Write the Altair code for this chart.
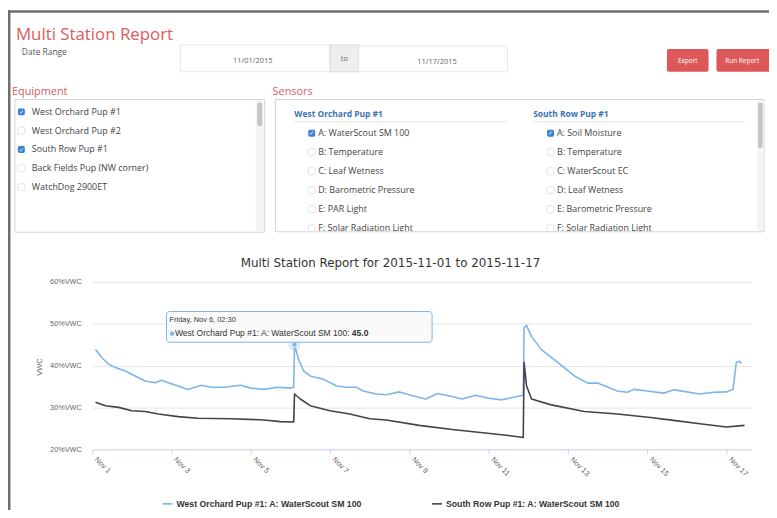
import altair as alt
import pandas as pd

# ---------------- data ----------------
series_names = ["West Orchard Pup #1: A: WaterScout SM 100",
                "South Row Pup #1: A: WaterScout SM 100"]
series_colors = ["#7cb5ec", "#434348"]

wo_time = ["2015-11-01T02:00", "2015-11-01T06:00", "2015-11-01T10:00", "2015-11-01T14:00",
           "2015-11-01T20:00", "2015-11-02T02:00", "2015-11-02T08:00", "2015-11-02T14:00",
           "2015-11-02T18:00", "2015-11-02T22:00", "2015-11-03T04:00", "2015-11-03T10:00",
           "2015-11-03T18:00", "2015-11-04T00:00", "2015-11-04T08:00", "2015-11-04T18:00",
           "2015-11-05T00:00", "2015-11-05T08:00", "2015-11-05T16:00", "2015-11-06T00:00",
           "2015-11-06T02:00", "2015-11-06T02:30", "2015-11-06T05:00", "2015-11-06T08:00",
           "2015-11-06T12:00", "2015-11-06T20:00", "2015-11-07T04:00", "2015-11-07T10:00",
           "2015-11-07T16:00", "2015-11-07T20:00", "2015-11-08T04:00", "2015-11-08T10:00",
           "2015-11-08T18:00", "2015-11-09T02:00", "2015-11-09T10:00", "2015-11-09T17:00",
           "2015-11-10T00:00", "2015-11-10T08:00", "2015-11-10T16:00", "2015-11-11T00:00",
           "2015-11-11T08:00", "2015-11-11T15:00", "2015-11-11T21:00", "2015-11-11T21:30",
           "2015-11-11T23:00", "2015-11-12T02:00", "2015-11-12T08:00", "2015-11-12T18:00",
           "2015-11-13T04:00", "2015-11-13T12:00", "2015-11-13T18:00", "2015-11-14T06:00",
           "2015-11-14T12:00", "2015-11-14T16:00", "2015-11-15T00:00", "2015-11-15T10:00",
           "2015-11-15T16:00", "2015-11-16T00:00", "2015-11-16T08:00", "2015-11-16T16:00",
           "2015-11-17T00:00", "2015-11-17T04:00", "2015-11-17T06:00", "2015-11-17T08:00",
           "2015-11-17T09:00"]
wo_vwc = [43.8, 41.8, 40.3, 39.5,
          38.7, 37.5, 36.3, 35.9,
          36.5, 35.9, 35.1, 34.3,
          35.3, 34.8, 34.8, 35.3,
          34.6, 34.3, 34.8, 34.6,
          34.8, 45.0, 41.4, 38.7,
          37.5, 36.7, 35.1, 34.8,
          34.8, 33.9, 33.2, 33.0,
          33.7, 32.8, 32.0, 33.3,
          32.8, 32.0, 32.9, 32.2,
          31.8, 32.4, 32.9, 49.0,
          49.6, 46.9, 43.8, 40.7,
          37.5, 35.8, 35.8, 33.9,
          33.6, 34.3, 33.9, 33.4,
          34.2, 33.7, 33.2, 33.6,
          33.7, 34.3, 40.7, 41.0,
          40.5]

sr_time = ["2015-11-01T02:00", "2015-11-01T08:00", "2015-11-01T16:00", "2015-11-02T00:00",
           "2015-11-02T08:00", "2015-11-02T16:00", "2015-11-03T04:00", "2015-11-03T16:00",
           "2015-11-04T12:00", "2015-11-05T08:00", "2015-11-05T18:00", "2015-11-06T02:00",
           "2015-11-06T02:30", "2015-11-06T06:00", "2015-11-06T12:00", "2015-11-07T00:00",
           "2015-11-07T12:00", "2015-11-08T00:00", "2015-11-08T10:00", "2015-11-09T06:00",
           "2015-11-10T02:00", "2015-11-10T22:00", "2015-11-11T12:00", "2015-11-11T21:00",
           "2015-11-11T21:30", "2015-11-11T23:00", "2015-11-12T02:00", "2015-11-12T14:00",
           "2015-11-13T10:00", "2015-11-14T06:00", "2015-11-15T02:00", "2015-11-15T16:00",
           "2015-11-16T08:00", "2015-11-17T00:00", "2015-11-17T11:00"]
sr_vwc = [31.2, 30.4, 30.0, 29.2,
          29.0, 28.4, 27.8, 27.4,
          27.3, 27.0, 26.6, 26.5,
          33.2, 32.0, 30.4, 29.2,
          28.4, 27.3, 27.0, 25.7,
          24.7, 23.9, 23.3, 22.8,
          40.7, 35.1, 32.0, 30.6,
          29.0, 28.4, 27.6, 26.9,
          26.1, 25.3, 25.7]

y_ticks = [20, 30, 40, 50, 60]
x_tick_days = [1, 3, 5, 7, 9, 11, 13, 15, 17]

page_title = "Multi Station Report"
chart_title = "Multi Station Report for 2015-11-01 to 2015-11-17"
date_label = "Date Range"
date_from = "11/01/2015"
date_sep = "to"
date_to = "11/17/2015"
button_labels = ["Export", "Run Report"]
equipment_heading = "Equipment"
sensors_heading = "Sensors"
equipment = ["West Orchard Pup #1", "West Orchard Pup #2", "South Row Pup #1",
             "Back Fields Pup (NW corner)", "WatchDog 2900ET"]
equipment_checked = [True, False, True, False, False]
sensor_groups = ["West Orchard Pup #1", "South Row Pup #1"]
sensors_group1 = ["A: WaterScout SM 100", "B: Temperature", "C: Leaf Wetness",
                  "D: Barometric Pressure", "E: PAR Light", "F: Solar Radiation Light"]
sensors_group2 = ["A: Soil Moisture", "B: Temperature", "C: WaterScout EC",
                  "D: Leaf Wetness", "E: Barometric Pressure", "F: Solar Radiation Light"]
sensors_checked = [True, False, False, False, False, False]
tooltip_time = "2015-11-06T02:30"
tooltip_header = "Friday, Nov 6, 02:30"

# ---------------- layout ----------------
OX, OY = 93, 282          # plot origin on the page
PW, PH = 665, 169         # plot size
SVG_W, SVG_H = 768, 502
RED = "#dc5b5b"
UI_FONT = "Open Sans"
HC_FONT = "Liberation Sans"

ONE = alt.InlineData(values=[{"k": 0}])


def px(x):
    return x - OX


def py(y):
    return y - OY


def label(s, x, y, size, color="#555", weight="normal", align="left",
          font=UI_FONT, baseline="middle", angle=None):
    kw = dict(text=s, fontSize=size, color=color, fontWeight=weight, align=align,
              font=font, baseline=baseline)
    if angle is not None:
        kw["angle"] = angle
    return alt.Chart(ONE).mark_text(**kw).encode(x=alt.value(px(x)), y=alt.value(py(y)))


def rect(x1, y1, x2, y2, fill="#ffffff", stroke=None, sw=1.0, radius=0, fill_opacity=1.0):
    kw = dict(fill=fill, fillOpacity=fill_opacity, cornerRadius=radius)
    if stroke:
        kw.update(stroke=stroke, strokeWidth=sw)
    else:
        kw.update(strokeWidth=0)
    return alt.Chart(ONE).mark_rect(**kw).encode(
        x=alt.value(px(x1)), x2=alt.value(px(x2)), y=alt.value(py(y1)), y2=alt.value(py(y2)))


def checkbox(x, y, checked):
    if checked:
        return [rect(x, y - 3.5, x + 7, y + 3.5, fill="#3b82d6", radius=1.5),
                label("\u2713", x + 3.5, y + 0.3, 6, color="white", align="center",
                      font="DejaVu Sans", weight="bold")]
    return [rect(x, y - 3.5, x + 7, y + 3.5, fill="#ffffff", stroke="#dcdcdc", sw=0.8, radius=1.5)]


ui = []
# frame
ui.append(rect(8, 8, 777, 10.5, fill="#6e6e6e"))
ui.append(rect(8, 8, 10.5, 520, fill="#6e6e6e"))
# header
ui.append(label(page_title, 16, 38, 17, color=RED, baseline="alphabetic"))
ui.append(label(date_label, 22, 50, 8.5, color="#555"))
ui.append(rect(182, 43, 333, 70, fill="#ffffff", stroke="#e6e6e6"))
ui.append(rect(333, 43, 362, 70, fill="#eeeeee", stroke="#dadada"))
ui.append(rect(362, 44, 512, 70, fill="#ffffff", stroke="#e6e6e6"))
ui.append(label(date_from, 255, 59, 7.5, color="#666", align="center"))
ui.append(label(date_sep, 347.5, 57, 7.5, color="#666", align="center"))
ui.append(label(date_to, 441, 60, 7.5, color="#666", align="center"))
ui.append(rect(673, 47, 715, 70, fill="#dd5858", radius=2))
ui.append(rect(723, 47, 777, 70, fill="#dd5858", radius=2))
ui.append(label(button_labels[0], 694, 59, 6.5, color="white", align="center"))
ui.append(label(button_labels[1], 749, 59, 6.5, color="white", align="center"))

# equipment panel
ui.append(label(equipment_heading, 12, 90, 11, color=RED))
ui.append(rect(15, 98, 267, 232, fill="#ffffff", stroke="#d4d4d4"))
ui.append(rect(258, 99, 266, 231, fill="#f4f4f4"))
ui.append(rect(259.5, 101, 264.5, 125, fill="#c4c4c4", radius=2))
for i, (name, chk) in enumerate(zip(equipment, equipment_checked)):
    yy = 110.5 + 19 * i
    ui.extend(checkbox(18, yy, chk))
    ui.append(label(name, 32, yy, 9, color="#444"))

# sensors panel
ui.append(label(sensors_heading, 275, 90, 11, color=RED))
ui.append(rect(278, 98, 771, 232, fill="#ffffff"))
for gx, cbx, group, items in [(297, 311, sensor_groups[0], sensors_group1),
                              (538, 552, sensor_groups[1], sensors_group2)]:
    ui.append(label(group, gx, 113, 8.5, color="#3a72b4", weight="bold"))
    ui.append(rect(gx, 120, gx + 214, 121, fill="#e2e2e2"))
    for i, (name, chk) in enumerate(zip(items, sensors_checked)):
        yy = 132 + 19.2 * i
        ui.extend(checkbox(cbx, yy, chk))
        ui.append(label(name, cbx + 10, yy, 9, color="#444"))
# panel cut-off at the bottom, then the outline and scrollbar
ui.append(rect(278, 231, 777, 245, fill="#ffffff"))
ui.append(rect(278, 98, 771, 231.5, fill="#ffffff", fill_opacity=0, stroke="#d4d4d4"))
ui.append(rect(764, 99, 770.5, 231, fill="#f4f4f4"))
ui.append(rect(765, 101, 769.5, 147, fill="#c4c4c4", radius=2))

# chart title and y title
ui.append(label(chart_title, 394, 267.5, 12, color="#333", align="center",
                font="DejaVu Sans", baseline="alphabetic"))
ui.append(label("VWC", 40, 368, 7.5, color="#666", align="center", font=HC_FONT, angle=270))

# ---------------- chart ----------------
df = pd.DataFrame({
    "time": wo_time + sr_time,
    "vwc": wo_vwc + sr_vwc,
    "series": [series_names[0]] * len(wo_time) + [series_names[1]] * len(sr_time),
})


def dt(d, h=0, m=0):
    return alt.DateTime(year=2015, month=11, date=d, hours=h, minutes=m)


xscale = alt.Scale(domain=[dt(1), dt(17, 15)])
yscale = alt.Scale(domain=[20, 60], nice=False, zero=False)

lines = alt.Chart(df).mark_line(strokeWidth=1.6, strokeJoin="round").encode(
    x=alt.X("time:T", scale=xscale, axis=alt.Axis(
        values=[dt(d) for d in x_tick_days], format="%b %-d", labelAngle=45,
        labelAlign="left", labelBaseline="middle", labelFontSize=7.5, labelFont=HC_FONT,
        labelColor="#666", labelPadding=4, labelOffset=3, tickColor="#ccd6eb", tickSize=5,
        domainColor="#ccd6eb", grid=False, title=None, labelOverlap=False, labelFlush=False)),
    y=alt.Y("vwc:Q", scale=yscale, axis=alt.Axis(
        values=y_ticks, labelExpr="datum.value + '%VWC'", title=None, domain=False,
        ticks=False, grid=True, gridColor="#e6e6e6", labelFontSize=7.4, labelFont=HC_FONT,
        labelColor="#666", labelPadding=11)),
    color=alt.Color("series:N", scale=alt.Scale(domain=series_names, range=series_colors),
                    legend=alt.Legend(orient="none", legendX=px(163), legendY=py(500),
                                      direction="horizontal", title=None, symbolType="stroke",
                                      symbolSize=100, symbolStrokeWidth=1.6, labelFont=HC_FONT,
                                      labelFontSize=8.8, labelFontWeight="bold", labelColor="#333",
                                      labelLimit=400, columnPadding=66, labelOffset=3)),
)

pk = df[(df.series == series_names[0]) & (df.time == tooltip_time)]
halo = alt.Chart(pk).mark_point(filled=True, size=150, color=series_colors[0], opacity=0.25).encode(
    x="time:T", y="vwc:Q")
dot = alt.Chart(pk).mark_point(filled=True, size=30, color=series_colors[0], opacity=1,
                               stroke="white", strokeWidth=1).encode(x="time:T", y="vwc:Q")

tip = [
    rect(168, 312, 436, 343, fill="#f9f9f9", fill_opacity=0.85, stroke=series_colors[0], sw=1, radius=3),
    label(tooltip_header, 171, 321, 7.5, color="#333", font=HC_FONT),
    label("\u25cf", 171, 334, 5.5, color=series_colors[0], font="DejaVu Sans"),
    label(series_names[0] + ":", 176.5, 334, 8.6, color="#333", font=HC_FONT),
    label(f"{pk.vwc.iloc[0]:.1f}", 355, 334, 8.6, color="#333", font=HC_FONT, weight="bold"),
]

chart = alt.layer(*ui, lines, halo, dot, *tip).properties(
    width=PW, height=PH,
    autosize=alt.AutoSizeParams(type="none"),
    padding={"left": OX - 8, "top": OY - 8, "right": SVG_W - (OX - 8) - PW,
             "bottom": SVG_H - (OY - 8) - PH},
    background="white",
).configure_view(stroke=None)

chart.save("out.html", embed_options={"renderer": "svg", "actions": False})
